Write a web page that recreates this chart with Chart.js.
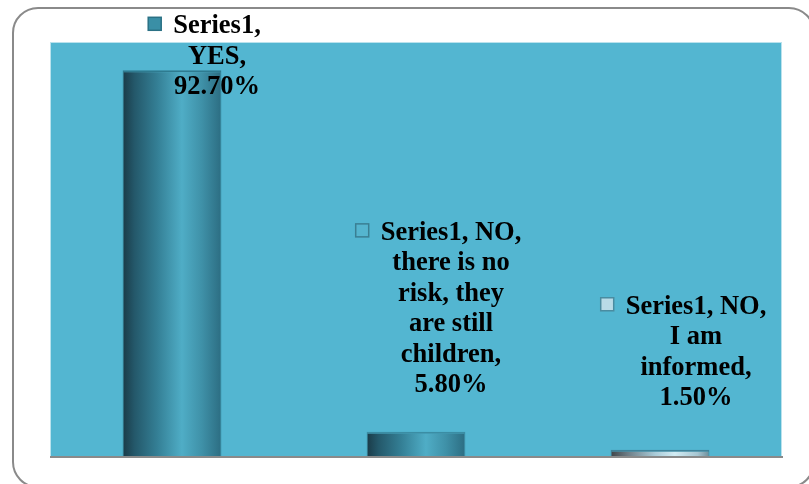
<!DOCTYPE html>
<html>
<head>
<meta charset="utf-8">
<script src="https://cdn.jsdelivr.net/npm/chart.js@4.4.1/dist/chart.umd.min.js"></script>
<style>
  html, body { margin: 0; padding: 0; background: #fff; overflow: hidden; }
  #wrap { position: relative; width: 809px; height: 484px; overflow: hidden; }
  #frame {
    position: absolute; left: 12px; top: 7px; width: 803px; height: 481px;
    border: 2px solid #8a8a8a; border-radius: 26px; box-sizing: border-box;
  }
  canvas { position: absolute; left: 0; top: 0; }
</style>
</head>
<body>
<div id="wrap">
  <div id="frame"></div>
  <canvas id="chart" width="809" height="484"></canvas>
</div>
<script>
const seriesName = "Series1";
const categories = ["YES", "NO, there is no risk, they are still children", "NO, I am informed"];
const values = [92.7, 5.8, 1.5];
const yTicks = [0, 99.5];

// label placement (block centre offset from bar centre, first line offset from bar top)
const labelDx = [45, 35, 36];
const labelDy = [-44, -199, -143];
const keyColors = [
  { fill: "#3a8fa6", stroke: "#2b7185" },
  { fill: "#55b5cf", stroke: "#3a7f93" },
  { fill: "#b9dbe7", stroke: "#4a8ca1" }
];

const tealStops = [
  [0, "#1a3a47"], [0.12, "#24586a"], [0.35, "#347f95"], [0.6, "#4fadc6"],
  [0.8, "#3f91a8"], [1, "#2c6d82"]
];
const silverStops = [
  [0, "#3f4448"], [0.18, "#6f7f88"], [0.45, "#a9cbd8"], [0.65, "#d2ecf4"],
  [0.88, "#a6c6d2"], [1, "#6b8d9a"]
];

function barFill(context) {
  const chart = context.chart;
  const xs = chart.scales.x;
  if (!xs || !chart.chartArea) return "#3a8fa6";
  const cx = xs.getPixelForValue(context.dataIndex);
  const w = xs.width / categories.length * 0.405;
  const g = chart.ctx.createLinearGradient(cx - w / 2, 0, cx + w / 2, 0);
  const stops = context.dataIndex === 2 ? silverStops : tealStops;
  stops.forEach(s => g.addColorStop(s[0], s[1]));
  return g;
}

function wrapText(ctx, text, maxWidth) {
  const words = text.split(" ");
  const lines = [];
  let line = "";
  words.forEach(word => {
    const test = line ? line + " " + word : word;
    if (line && ctx.measureText(test).width > maxWidth) {
      lines.push(line);
      line = word;
    } else {
      line = test;
    }
  });
  if (line) lines.push(line);
  return lines;
}

const plotBg = {
  id: "plotBg",
  beforeDraw(chart) {
    const { ctx, chartArea: a } = chart;
    ctx.save();
    ctx.fillStyle = "#53b6d1";
    ctx.fillRect(a.left, a.top, a.right - a.left, a.bottom - a.top);
    ctx.strokeStyle = "rgba(255,255,255,0.6)";
    ctx.lineWidth = 1;
    ctx.strokeRect(a.left + 0.5, a.top + 0.5, a.right - a.left - 1, a.bottom - a.top);
    ctx.restore();
  },
  afterDatasetsDraw(chart) {
    const { ctx, chartArea: a } = chart;
    ctx.save();
    // base line
    ctx.strokeStyle = "#8a8a8a";
    ctx.lineWidth = 2;
    ctx.beginPath();
    ctx.moveTo(a.left, a.bottom + 1);
    ctx.lineTo(a.right + 1, a.bottom + 1);
    ctx.stroke();

    // data labels
    const meta = chart.getDatasetMeta(0);
    ctx.font = "bold 26.5px 'Liberation Serif', 'Times New Roman', serif";
    ctx.fillStyle = "#000";
    ctx.textAlign = "center";
    ctx.textBaseline = "middle";
    const lineH = 30.5;
    meta.data.forEach((bar, i) => {
      const text = seriesName + ", " + categories[i] + ", " + values[i].toFixed(2) + "%";
      const lines = wrapText(ctx, text, 146);
      const cx = bar.x + labelDx[i];
      const y0 = bar.y + labelDy[i];
      let blockW = 0;
      lines.forEach(l => { blockW = Math.max(blockW, ctx.measureText(l).width); });
      lines.forEach((l, k) => ctx.fillText(l, cx, y0 + k * lineH));
      // legend key
      const kx = cx - blockW / 2 - 25;
      ctx.fillStyle = keyColors[i].fill;
      ctx.fillRect(kx, y0 - 9, 13, 13);
      ctx.strokeStyle = keyColors[i].stroke;
      ctx.lineWidth = 1.5;
      ctx.strokeRect(kx, y0 - 9, 13, 13);
      ctx.fillStyle = "#000";
    });
    ctx.restore();
  }
};

const ctx = document.getElementById("chart").getContext("2d");
new Chart(ctx, {
  type: "bar",
  data: {
    labels: categories,
    datasets: [{
      label: seriesName,
      data: values,
      backgroundColor: barFill,
      borderColor: ["#2e7b90", "#3b8da4", "#3f8299"],
      borderWidth: { top: 2, left: 1, right: 1, bottom: 0 },
      borderSkipped: false,
      categoryPercentage: 1,
      barPercentage: 0.405
    }]
  },
  options: {
    responsive: false,
    animation: false,
    layout: { padding: { left: 50, top: 42, right: 27, bottom: 28 } },
    plugins: {
      legend: { display: false },
      tooltip: { enabled: false }
    },
    scales: {
      x: { display: false },
      y: { display: false, min: yTicks[0], max: yTicks[1] }
    }
  },
  plugins: [plotBg]
});
</script>
</body>
</html>
